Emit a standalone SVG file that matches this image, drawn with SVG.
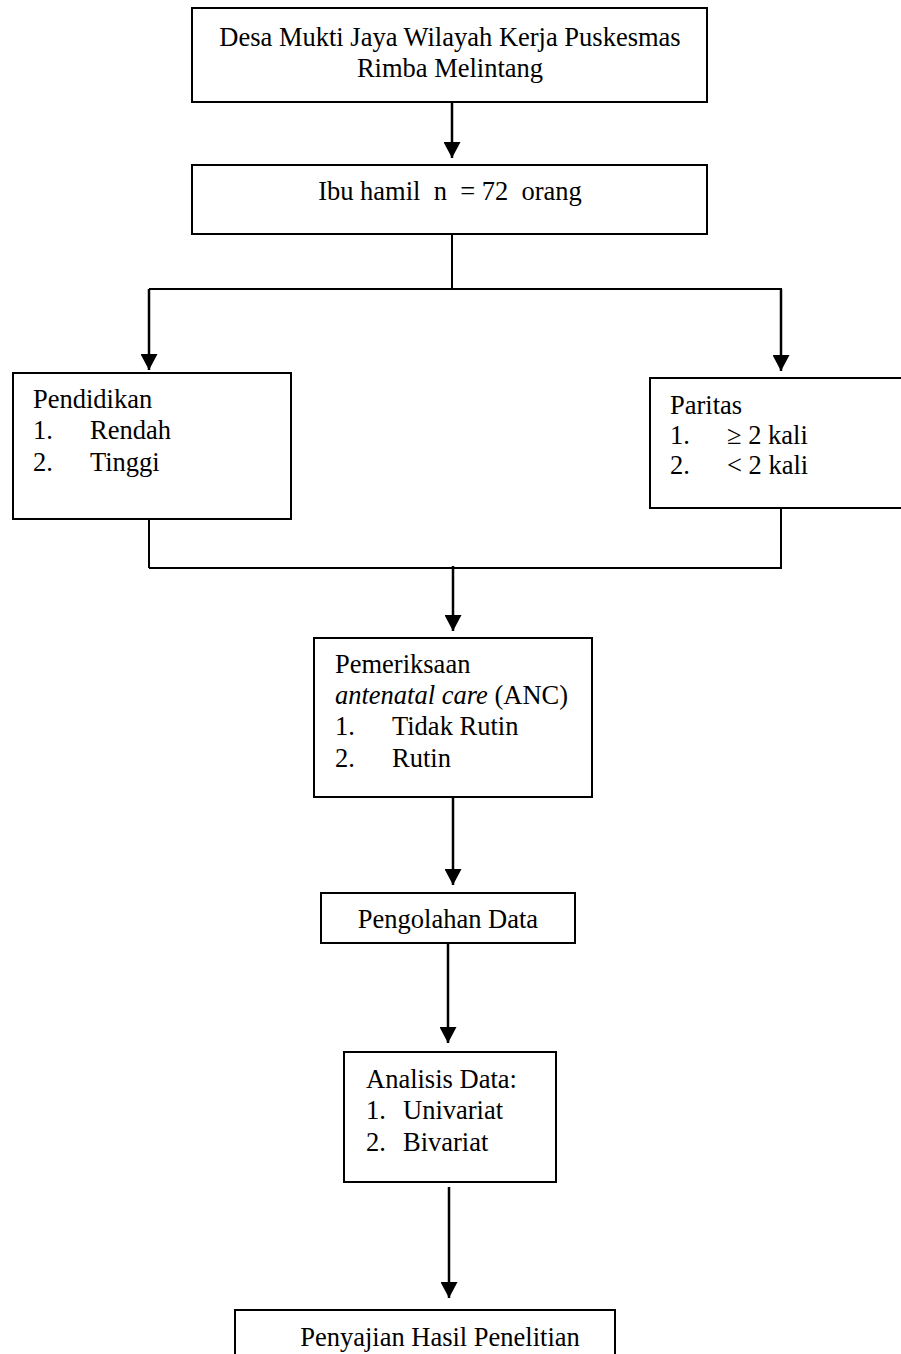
<svg xmlns="http://www.w3.org/2000/svg" width="901" height="1354" viewBox="0 0 901 1354">
<style>
.box{fill:#fff;stroke:#000;stroke-width:2}
.t{font-family:"Liberation Serif","Times New Roman",serif;font-size:26.5px;fill:#000}
.c{text-anchor:middle}
.ln{fill:none;stroke:#000;stroke-width:2}
.ar{fill:none;stroke:#000;stroke-width:2.5}
</style>
<defs>
<marker id="ad" markerUnits="userSpaceOnUse" markerWidth="18" markerHeight="18" refX="8.5" refY="16" orient="0" viewBox="0 0 18 18">
<path d="M0,0 L17,0 L8.5,16 Z" fill="#000"/>
</marker>
</defs>
<rect width="901" height="1354" fill="#fff"/>
<g id="connectors">
<line class="ar" x1="452" y1="102" x2="452" y2="158" marker-end="url(#ad)"/>
<line class="ln" x1="452" y1="234" x2="452" y2="289"/>
<line class="ln" x1="149" y1="289" x2="782" y2="289"/>
<line class="ar" x1="149" y1="289" x2="149" y2="370" marker-end="url(#ad)"/>
<line class="ar" x1="781" y1="289" x2="781" y2="371" marker-end="url(#ad)"/>
<line class="ln" x1="149" y1="519" x2="149" y2="568"/>
<line class="ln" x1="781" y1="508" x2="781" y2="568"/>
<line class="ln" x1="149" y1="568" x2="782" y2="568"/>
<line class="ar" x1="453" y1="566" x2="453" y2="631" marker-end="url(#ad)"/>
<line class="ar" x1="453" y1="797" x2="453" y2="885" marker-end="url(#ad)"/>
<line class="ar" x1="448" y1="943" x2="448" y2="1043" marker-end="url(#ad)"/>
<line class="ar" x1="449" y1="1187" x2="449" y2="1298" marker-end="url(#ad)"/>
</g>
<g id="node-desa">
<rect class="box" x="192" y="8" width="515" height="94"/>
<text class="t c" x="450" y="46">Desa Mukti Jaya Wilayah Kerja Puskesmas</text>
<text class="t c" x="450" y="77">Rimba Melintang</text>
</g>
<g id="node-ibu">
<rect class="box" x="192" y="165" width="515" height="69"/>
<text class="t c" x="450" y="200" xml:space="preserve">Ibu hamil  n  = 72  orang</text>
</g>
<g id="node-pendidikan">
<rect class="box" x="13" y="373" width="278" height="146"/>
<text class="t" x="33" y="408">Pendidikan</text>
<text class="t" x="33" y="439">1.</text><text class="t" x="90" y="439">Rendah</text>
<text class="t" x="33" y="471">2.</text><text class="t" x="90" y="471">Tinggi</text>
</g>
<g id="node-paritas">
<rect class="box" x="650" y="378" width="260" height="130"/>
<text class="t" x="670" y="414">Paritas</text>
<text class="t" x="670" y="444">1.</text><text class="t" x="727" y="444">≥ 2 kali</text>
<text class="t" x="670" y="474">2.</text><text class="t" x="727" y="474">&lt; 2 kali</text>
</g>
<g id="node-anc">
<rect class="box" x="314" y="638" width="278" height="159"/>
<text class="t" x="335" y="673">Pemeriksaan</text>
<text class="t" x="335" y="704"><tspan font-style="italic">antenatal care</tspan> (ANC)</text>
<text class="t" x="335" y="735">1.</text><text class="t" x="392" y="735">Tidak Rutin</text>
<text class="t" x="335" y="767">2.</text><text class="t" x="392" y="767">Rutin</text>
</g>
<g id="node-pengolahan">
<rect class="box" x="321" y="893" width="254" height="50"/>
<text class="t c" x="448" y="928">Pengolahan Data</text>
</g>
<g id="node-analisis">
<rect class="box" x="344" y="1052" width="212" height="130"/>
<text class="t" x="366" y="1088">Analisis Data:</text>
<text class="t" x="366" y="1119">1.</text><text class="t" x="403" y="1119">Univariat</text>
<text class="t" x="366" y="1151">2.</text><text class="t" x="403" y="1151">Bivariat</text>
</g>
<g id="node-penyajian">
<rect class="box" x="235" y="1310" width="380" height="60"/>
<text class="t c" x="440" y="1346">Penyajian Hasil Penelitian</text>
</g>
</svg>
